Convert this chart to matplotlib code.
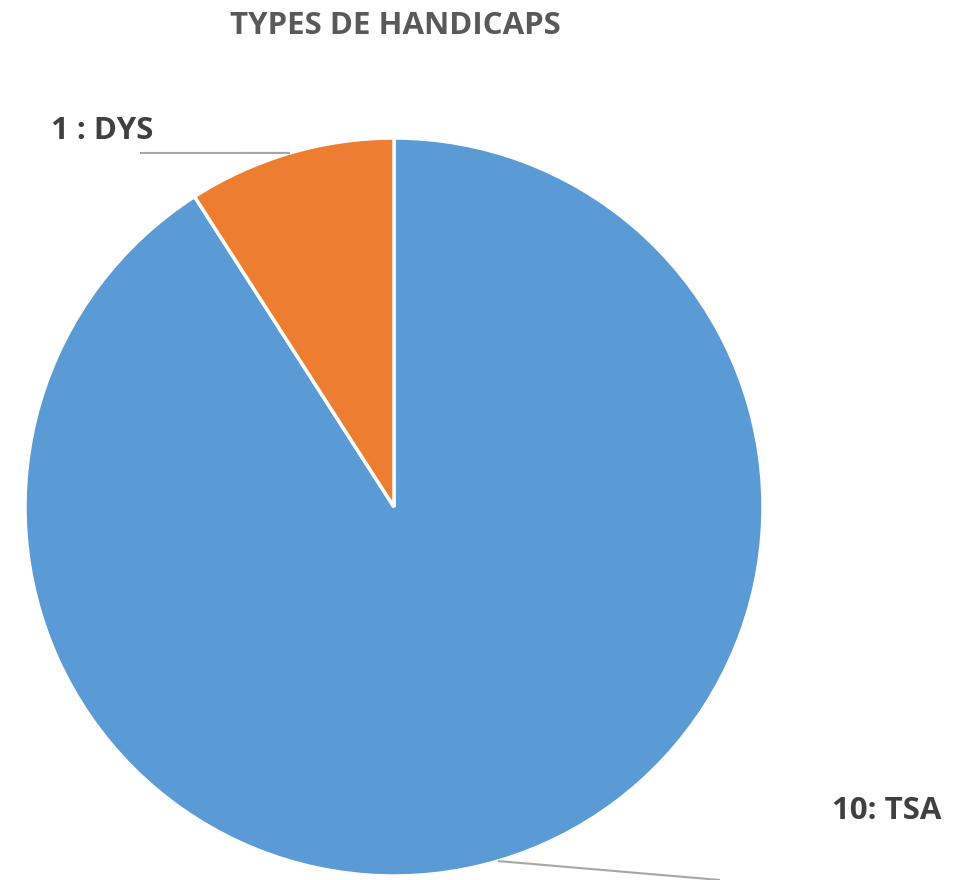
import matplotlib
matplotlib.use("Agg")
import matplotlib.pyplot as plt
import numpy as np

categories = ["TSA", "DYS"]
values = [10, 1]
labels = ["10: TSA", "1 : DYS"]
colors = ["#5B9BD5", "#ED7D31"]
title = "TYPES DE HANDICAPS"

W, H = 958, 880
fig = plt.figure(figsize=(W / 100, H / 100), dpi=100)
ax = fig.add_axes([0, 0, 1, 1])

cx, cy, r = 394, H - 507, 369
wedges, _ = ax.pie(values, colors=colors, startangle=90, counterclock=False,
                   center=(cx, cy), radius=r, frame=True,
                   wedgeprops=dict(edgecolor="white", linewidth=2.5))
ax.set_xlim(0, W)
ax.set_ylim(0, H)
ax.set_aspect("equal")
ax.axis("off")

font = ["Open Sans", "DejaVu Sans"]
txtcol = "#404040"
leader_ends = {"DYS": (140, 153), "TSA": (720, 880)}
label_pos = {"DYS": (51, 131, "left"), "TSA": (941, 811, "right")}
for w, cat, lab in zip(wedges, categories, labels):
    ang = np.deg2rad((w.theta1 + w.theta2) / 2)
    px, py = cx + r * np.cos(ang), cy + r * np.sin(ang)
    ex, ey = leader_ends[cat]
    ax.plot([px, ex], [py, H - ey], color="#A6A6A6", lw=1.5, solid_capstyle="butt")
    lx, ly, ha = label_pos[cat]
    ax.text(lx, H - ly, lab, ha=ha, va="center", fontsize=22.5, fontweight="bold",
            color=txtcol, family=font)

ax.text(395, H - 26, title, ha="center", va="center", fontsize=22.5,
        fontweight="bold", color="#595959", family=font)

fig.savefig("out.png", dpi=100, facecolor="white")
